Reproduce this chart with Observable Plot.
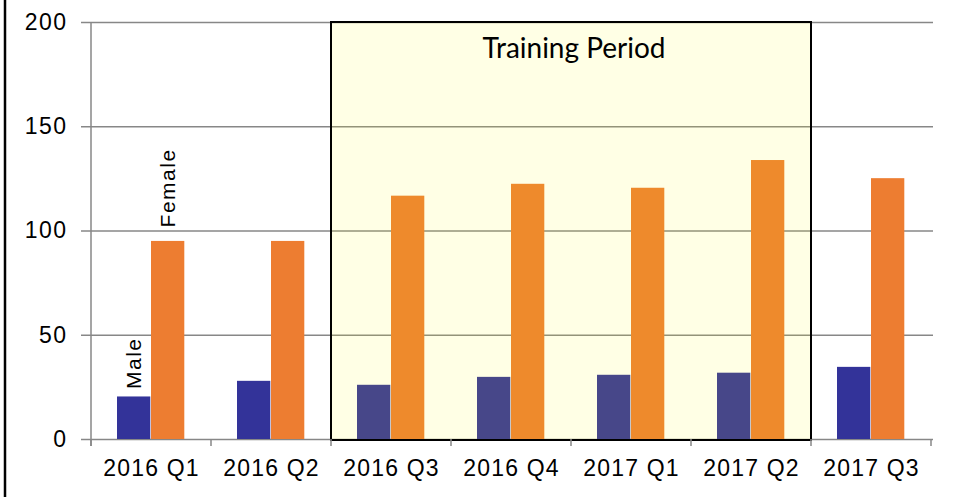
<!DOCTYPE html>
<html>
<head>
<meta charset="utf-8">
<script src="https://cdn.jsdelivr.net/npm/d3@7"></script>
<script src="https://cdn.jsdelivr.net/npm/@observablehq/plot@0.6"></script>
<style>
  html, body { margin: 0; padding: 0; background: #fff; }
  #chart svg { display: block; }
  #chart g[aria-label="x-axis tick label"], #chart g[aria-label="x-axis tick label"] text { font-size: 23px !important; letter-spacing: 1.2px; font-family: 'Liberation Sans', Arial, sans-serif; }
  #chart g[aria-label="y-axis tick label"], #chart g[aria-label="y-axis tick label"] text { font-size: 23px !important; letter-spacing: 1.5px; font-family: 'Liberation Sans', Arial, sans-serif; }
  #chart g.series-label, #chart g.series-label text { font-size: 21px !important; letter-spacing: 1.5px; font-family: 'Liberation Sans', Arial, sans-serif; }
</style>
</head>
<body>
<div id="chart"></div>
<script>
const quarters = ["2016 Q1", "2016 Q2", "2016 Q3", "2016 Q4", "2017 Q1", "2017 Q2", "2017 Q3"];
const male = [20.4, 27.9, 26, 29.8, 30.8, 31.8, 34.6];
const female = [95, 95, 116.7, 122.4, 120.5, 133.8, 125.1];
const yTicks = [0, 50, 100, 150, 200];
const trainingStart = "2016 Q3";
const trainingEnd = "2017 Q2";
const trainingLabel = "Training Period";
const seriesLabels = ["Male", "Female"];

const rows = quarters.map((q, i) => ({q, male: male[i], female: female[i]}));
const grey = "#878787";
const maleColor = "#333399";
const femaleColor = "#ed7d31";

function decorations(index, scales) {
  const x = scales.x, y = scales.y;
  const bw = x(quarters[1]) - x(quarters[0]);
  const g = d3.create("svg:g");
  g.append("line").attr("x1", 5).attr("x2", 5).attr("y1", 0).attr("y2", 497)
    .attr("stroke", "#000").attr("stroke-width", 2.5);
  const x0 = x(quarters[0]);
  g.append("line").attr("x1", x0).attr("x2", x0).attr("y1", y(200)).attr("y2", y(0) + 7)
    .attr("stroke", grey).attr("stroke-width", 1.5);
  const bounds = quarters.map(q => x(q)).concat([x(quarters[quarters.length - 1]) + bw]);
  for (const b of bounds) {
    g.append("line").attr("x1", b).attr("x2", b).attr("y1", y(0)).attr("y2", y(0) + 7)
      .attr("stroke", grey).attr("stroke-width", 1.5);
  }
  return g.node();
}

function training(index, scales) {
  const x = scales.x, y = scales.y;
  const bw = x(quarters[1]) - x(quarters[0]);
  const x1 = x(trainingStart), x2 = x(trainingEnd) + bw;
  const g = d3.create("svg:g");
  g.append("rect").attr("x", x1).attr("y", y(200)).attr("width", x2 - x1).attr("height", y(0) - y(200) + 1)
    .attr("fill", "#ffff00").attr("fill-opacity", 0.1)
    .attr("stroke", "#000").attr("stroke-width", 2);
  g.append("text").attr("x", (x1 + x2) / 2 + 3).attr("y", y(200) + 36)
    .attr("text-anchor", "middle")
    .attr("font-family", "Lato, 'Open Sans', sans-serif")
    .attr("font-size", 28).attr("fill", "#000")
    .text(trainingLabel);
  return g.node();
}

const plot = Plot.plot({
  width: 953,
  height: 497,
  marginLeft: 88,
  marginRight: 20,
  marginTop: 22,
  marginBottom: 58,
  style: {fontFamily: "'Liberation Sans', Arial, sans-serif", fontSize: "22px", background: "#fff", color: "#000"},
  x: {domain: quarters, padding: 0, label: null},
  y: {domain: [0, 200], label: null},
  marks: [
    Plot.ruleY(yTicks, {stroke: grey, strokeWidth: 1.5, x1: quarters[0], insetLeft: -7}),
    Plot.ruleY(yTicks, {stroke: grey, strokeWidth: 1.5}),
    Plot.barY(rows, {x: "q", y: "male", fill: maleColor, insetLeft: 26, insetRight: 60.7}),
    Plot.barY(rows, {x: "q", y: "female", fill: femaleColor, insetLeft: 60, insetRight: 26.7}),
    training,
    decorations,
    Plot.axisY({ticks: yTicks, tickSize: 7, tickPadding: 14, stroke: grey, strokeWidth: 1.5}),
    Plot.axisX({tickSize: 0, tickPadding: 20}),
    Plot.text([rows[0]], {x: "q", y: "male", text: () => seriesLabels[0], rotate: -90, textAnchor: "start", dx: -17, dy: -8, lineAnchor: "middle", fill: "#000", className: "series-label"}),
    Plot.text([rows[0]], {x: "q", y: "female", text: () => seriesLabels[1], rotate: -90, textAnchor: "start", dx: 17, dy: -14, lineAnchor: "middle", fill: "#000", stroke: "white", strokeWidth: 8, className: "series-label"})
  ]
});
document.getElementById("chart").appendChild(plot);
</script>
</body>
</html>
